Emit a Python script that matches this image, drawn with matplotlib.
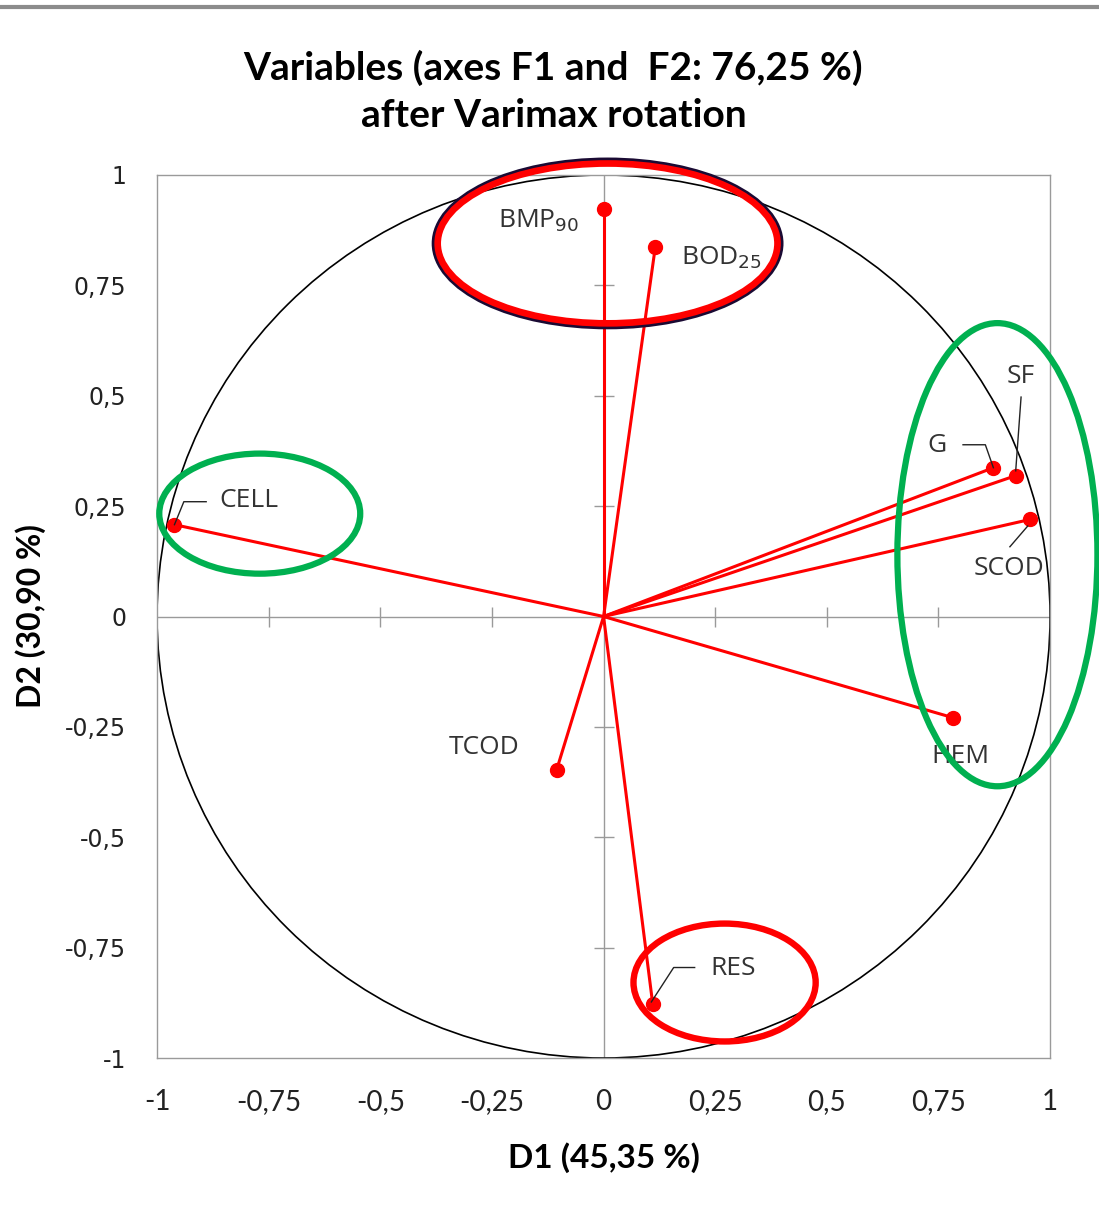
import numpy as np
import matplotlib
matplotlib.use("Agg")
import matplotlib.pyplot as plt
from matplotlib.patches import Ellipse, Circle
from matplotlib.lines import Line2D

# ---- data ----
variables = ["BMP$_{90}$", "BOD$_{25}$", "CELL", "G", "SF", "SCOD", "HEM", "TCOD", "RES"]
d1 = [0.000, 0.116, -0.961, 0.873, 0.923, 0.956, 0.782, -0.105, 0.110]
d2 = [0.924, 0.838, 0.208, 0.337, 0.319, 0.220, -0.229, -0.347, -0.877]
tick_vals = [-1, -0.75, -0.5, -0.25, 0, 0.25, 0.5, 0.75, 1]
tick_labels = ["-1", "-0,75", "-0,5", "-0,25", "0", "0,25", "0,5", "0,75", "1"]
title = "Variables (axes F1 and  F2: 76,25 %)\nafter Varimax rotation"
xlabel = "D1 (45,35 %)"
ylabel = "D2 (30,90 %)"

# label centres and leader lines
label_pos = {
    "BMP$_{90}$": (-0.146, 0.897),
    "BOD$_{25}$": (0.265, 0.813),
    "CELL": (-0.795, 0.263),
    "G": (0.746, 0.387),
    "SF": (0.934, 0.544),
    "SCOD": (0.907, 0.109),
    "HEM": (0.800, -0.317),
    "TCOD": (-0.267, -0.297),
    "RES": (0.291, -0.797),
}
leaders = {
    "CELL": ([-0.961, -0.94, -0.89], [0.208, 0.26, 0.26]),
    "G": ([0.873, 0.855, 0.805], [0.337, 0.389, 0.389]),
    "SF": ([0.923, 0.935], [0.33, 0.497]),
    "SCOD": ([0.95, 0.91], [0.205, 0.158]),
    "RES": ([0.107, 0.157, 0.204], [-0.873, -0.795, -0.795]),
}

fig = plt.figure(figsize=(10.99, 12.06), dpi=100)
ax = fig.add_axes([0.1429, 0.1227, 0.8126, 0.7322])
ax.set_xlim(-1, 1)
ax.set_ylim(-1, 1)

for s in ax.spines.values():
    s.set_color("#9a9a9a")
    s.set_linewidth(1.0)

ax.set_xticks(tick_vals)
ax.set_xticklabels(tick_labels, family="Lato", fontsize=20, color="#222222")
ax.set_yticks(tick_vals)
ax.set_yticklabels(tick_labels, family="DejaVu Sans", fontsize=17, color="#222222")
ax.tick_params(axis="both", length=0)
ax.tick_params(axis="x", pad=22)
ax.tick_params(axis="y", pad=22)

# central axes with crossing ticks
ax.axhline(0, color="#9a9a9a", lw=1.0, zorder=1)
ax.axvline(0, color="#9a9a9a", lw=1.0, zorder=1)
inner = [t for t in tick_vals if abs(t) not in (0, 1)]
ax.plot(inner, [0] * len(inner), ls="none", marker="|", ms=15, mew=1.0, color="#9a9a9a", zorder=1)
ax.plot([0] * len(inner), inner, ls="none", marker="_", ms=15, mew=1.0, color="#9a9a9a", zorder=1)

# correlation circle
ax.add_patch(Circle((0, 0), 1, fill=False, ec="black", lw=1.2, zorder=2))

# vectors
for x, y in zip(d1, d2):
    ax.plot([0, x], [0, y], color="#ff0000", lw=2.2, zorder=3, solid_capstyle="round")
ax.plot(d1, d2, ls="none", marker="o", ms=10, color="#ff0000", zorder=4)

# labels
for name in variables:
    tx, ty = label_pos[name]
    ax.text(tx, ty, name, fontsize=19, family="Open Sans", color="#333333",
            ha="center", va="center", zorder=5)
for name, (lx, ly) in leaders.items():
    ax.plot(lx, ly, color="#222222", lw=1.0, zorder=5)

# highlight ellipses (not clipped)
ell_specs = [
    ((0.009, 0.845), 0.761, 0.362, "#ff0000", 4.8, True),
    ((-0.770, 0.233), 0.450, 0.272, "#00b050", 4.5, False),
    ((0.882, 0.140), 0.448, 1.049, "#00b050", 4.5, False),
    ((0.271, -0.829), 0.408, 0.267, "#ff0000", 4.6, False),
]
for (c, w, h, col, lw, dark) in ell_specs:
    if dark:
        e0 = Ellipse(c, w + 0.012, h + 0.012, fill=False, ec="#1a0a33", lw=lw, zorder=6, clip_on=False)
        ax.add_patch(e0)
    e = Ellipse(c, w, h, fill=False, ec=col, lw=lw, zorder=7, clip_on=False)
    ax.add_patch(e)

ax.set_xlabel(xlabel, fontsize=24, fontweight="bold", family="Lato", labelpad=20)
ax.set_ylabel(ylabel, fontsize=23, fontweight="bold", family="Lato", labelpad=14)

fig.text(0.5035, 0.924, title, ha="center", va="center", fontsize=28, fontweight="bold",
         family="Lato", linespacing=1.4)

# top grey bar
fig.add_artist(Line2D([0, 1], [0.9945, 0.9945], transform=fig.transFigure, color="#8c8c8c", lw=3))

fig.savefig("out.png", dpi=100, facecolor="white")
